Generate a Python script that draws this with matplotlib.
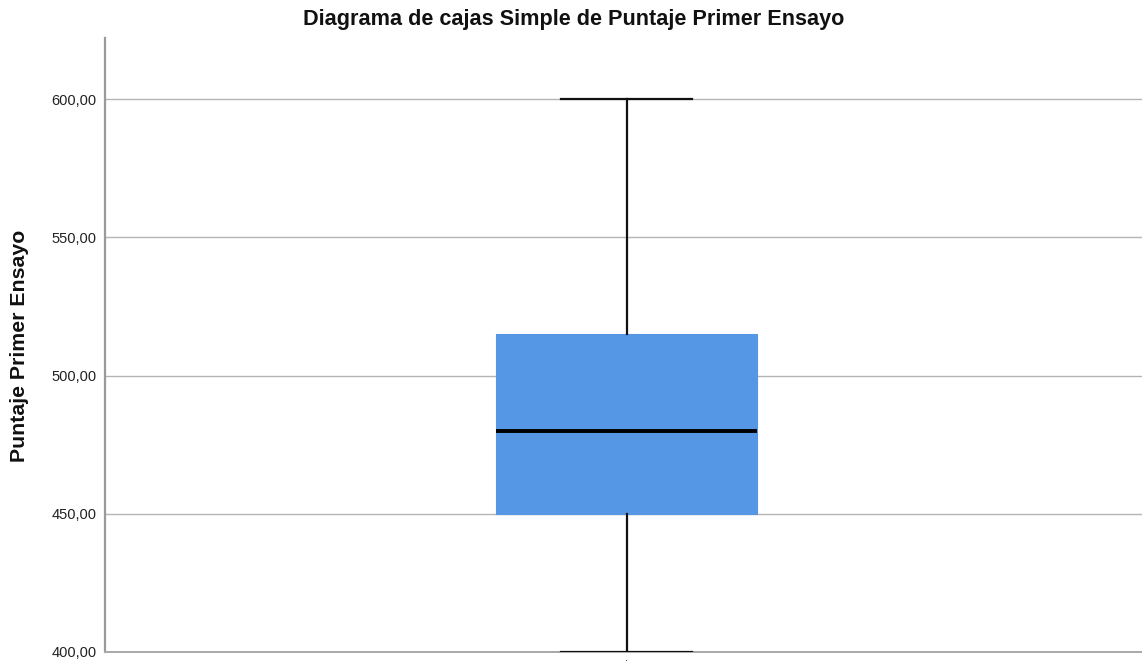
import matplotlib
matplotlib.use("Agg")
import matplotlib.pyplot as plt
from matplotlib.ticker import FuncFormatter

plt.rcParams['font.family'] = ['Liberation Sans', 'DejaVu Sans']

# Data (summary statistics)
category = ["Puntaje Primer Ensayo"]
whisker_low = [400.0]
q1 = [450.0]
median = [480.0]
q3 = [515.0]
whisker_high = [600.0]
yticks = [400, 450, 500, 550, 600]

fig = plt.figure(figsize=(11.42, 6.69), dpi=100)
ax = fig.add_axes([105/1142, 17.3/669, 1037/1142, 613.4/669])

stats = [dict(label=c, whislo=wl, q1=a, med=m, q3=b, whishi=wh, fliers=[])
         for c, wl, a, m, b, wh in zip(category, whisker_low, q1, median, q3, whisker_high)]

ax.bxp(stats, positions=[1], widths=0.5034, patch_artist=True, showfliers=False,
       boxprops=dict(facecolor='#5596e5', edgecolor='#5596e5', linewidth=0.8),
       medianprops=dict(color='black', linewidth=2.8),
       whiskerprops=dict(color='#111111', linewidth=1.6),
       capprops=dict(color='#111111', linewidth=1.6),
       capwidths=0.2527, zorder=3)

ax.set_xlim(-0.006, 1.994)
ax.set_ylim(400, 622.1)
ax.set_yticks(yticks)
ax.yaxis.set_major_formatter(FuncFormatter(lambda v, p: f"{v:.2f}".replace('.', ',')))
ax.tick_params(axis='y', length=0, pad=6, labelsize=10.5, colors='#222222')
ax.set_xticks([1])
ax.set_xticklabels(['·'], fontsize=7)
ax.tick_params(axis='x', length=0, pad=3)

ax.yaxis.grid(True, color='#b4b4b4', linewidth=1.0, zorder=0)
ax.set_axisbelow(True)
for s in ['top', 'right']:
    ax.spines[s].set_visible(False)
ax.spines['left'].set_color('#9a9a9a')
ax.spines['left'].set_linewidth(1.6)
ax.spines['bottom'].set_color('#a8a8a8')
ax.spines['bottom'].set_linewidth(1.4)

fig.text(574/1142, 1 - 20/669, "Diagrama de cajas Simple de Puntaje Primer Ensayo",
         ha='center', va='center', fontsize=15.6, fontweight='bold', color='#111111')
fig.text(20/1142, 1 - 346/669, "Puntaje Primer Ensayo", rotation=90,
         ha='center', va='center', fontsize=15.3, fontweight='bold', color='#111111')

fig.savefig("out.png", dpi=100)
